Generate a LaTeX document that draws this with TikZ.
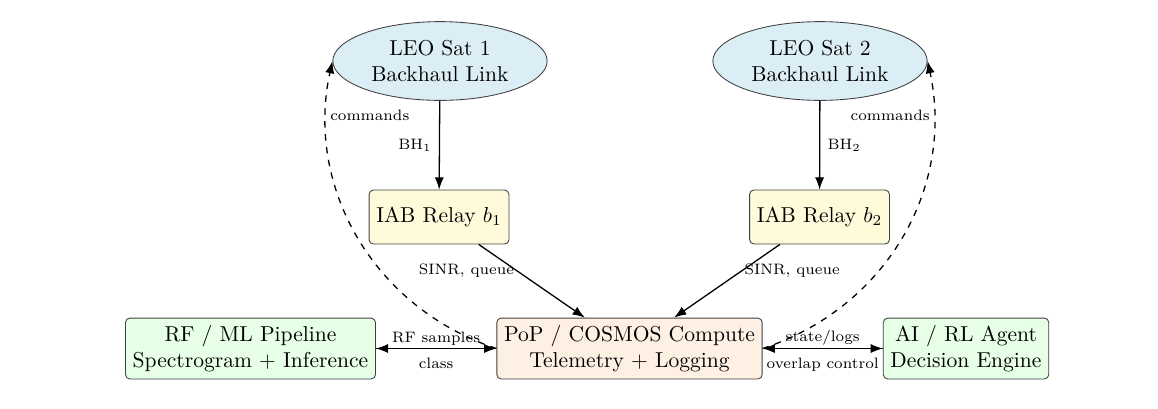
\documentclass[tikz,border=0pt]{standalone}
\usetikzlibrary{arrows.meta,shapes.geometric}
\definecolor{satfill}{RGB}{220,238,245}
\definecolor{relayfill}{RGB}{255,250,218}
\definecolor{popfill}{RGB}{255,240,228}
\definecolor{mlfill}{RGB}{230,255,230}
\begin{document}
\begin{tikzpicture}[x=0.4638pt,y=-0.4638pt,
  >={Latex},
  sat/.style={ellipse, draw=black!75, fill=satfill, align=center},
  relay/.style={rectangle, rounded corners=2pt, draw=black!75, fill=relayfill, minimum height=25pt, align=center},
  popbox/.style={rectangle, rounded corners=2pt, draw=black!75, fill=popfill, align=center},
  mlbox/.style={rectangle, rounded corners=2pt, draw=black!75, fill=mlfill, align=center},
  lbl/.style={font=\scriptsize},
  link/.style={->, semithick},
  cmd/.style={->, semithick, dashed}
]
\useasboundingbox (0,0) rectangle (1158,408);
\node[sat] (sat1) at (440,61) {LEO Sat 1\\Backhaul Link};
\node[sat] (sat2) at (820,61) {LEO Sat 2\\Backhaul Link};
\node[relay] (b1) at (439,217) {IAB Relay $b_1$};
\node[relay] (b2) at (819.5,217) {IAB Relay $b_2$};
\node[popbox] (pop) at (629.5,348.5) {PoP / COSMOS Compute\\Telemetry + Logging};
\node[mlbox] (rf) at (250.5,348.5) {RF / ML Pipeline\\Spectrogram + Inference};
\node[mlbox] (ai) at (966,348.5) {AI / RL Agent\\Decision Engine};

\draw[link] (sat1) -- node[lbl, left] {BH$_1$} (b1);
\draw[link] (sat2) -- node[lbl, right] {BH$_2$} (b2);
\draw[link] (b1) -- node[lbl, pos=0.36, anchor=east, inner sep=1pt] {SINR, queue} (pop);
\draw[link] (b2) -- node[lbl, pos=0.36, anchor=west, inner sep=1pt] {SINR, queue} (pop);

\draw[link] (pop) -- node[lbl, above, inner sep=1pt] {RF samples} (rf);
\draw[link] (rf) -- node[lbl, below, inner sep=4pt] {class} (pop);
\draw[link] (pop) -- node[lbl, above, inner sep=1pt] {state/logs} (ai);
\draw[link] (ai) -- node[lbl, below, inner sep=4pt] {overlap control} (pop);

\draw[cmd] (pop.west) to[bend left=42] node[lbl, pos=0.855, anchor=west, inner sep=1.5pt] {commands} (sat1.west);
\draw[cmd] (pop.east) to[bend right=42] node[lbl, pos=0.855, anchor=east, inner sep=1.5pt] {commands} (sat2.east);
\end{tikzpicture}
\end{document}
